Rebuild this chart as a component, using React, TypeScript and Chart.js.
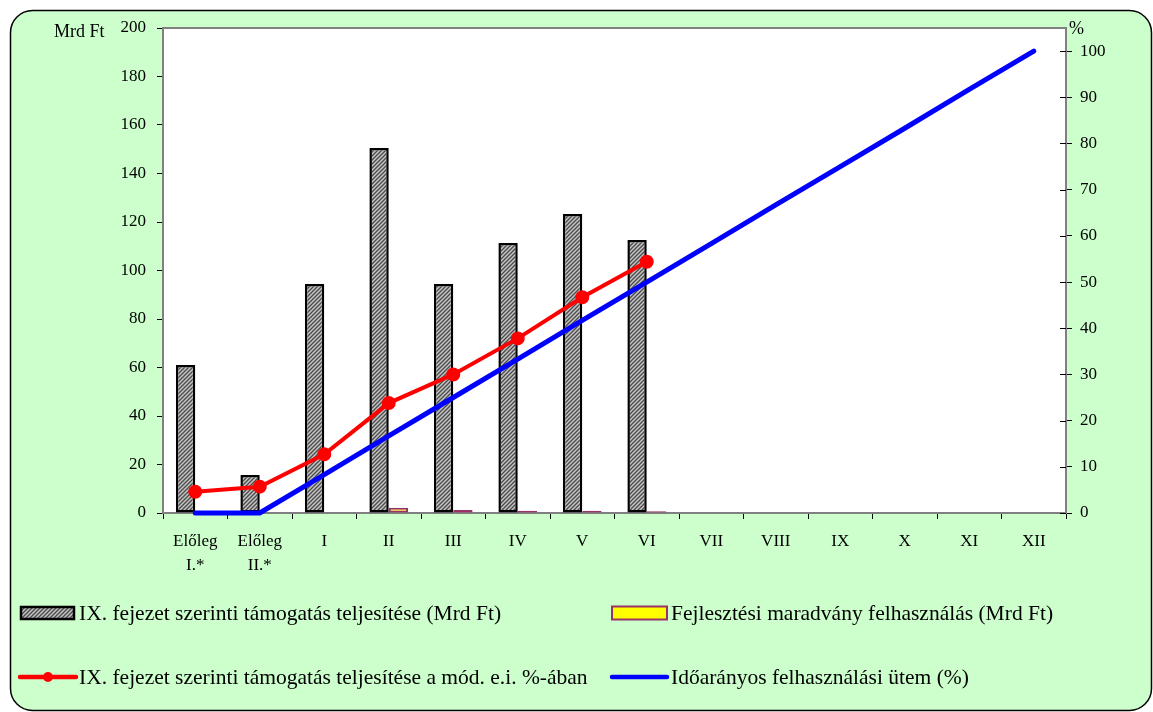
import { useEffect, useRef } from 'react';
import { Chart, registerables } from 'chart.js';

Chart.register(...registerables);

const categories: (string | string[])[] = [
  ['Előleg', 'I.*'], ['Előleg', 'II.*'], 'I', 'II', 'III', 'IV', 'V', 'VI', 'VII', 'VIII', 'IX', 'X', 'XI', 'XII',
];
const supportValues = [61.0, 15.7, 94.4, 150.5, 94.4, 111.3, 123.3, 112.6, null, null, null, null, null, null];
const residualValues = [null, null, null, 2.2, 1.2, 0.9, 0.9, 0.7, null, null, null, null, null, null];
const supportPctValues = [4.6, 5.7, 12.7, 23.8, 30.0, 37.8, 46.7, 54.4, null, null, null, null, null, null];
const timePctValues = [0, 0, 8.3, 16.7, 25, 33.3, 41.7, 50, 58.3, 66.7, 75, 83.3, 91.7, 100];

const seriesNames = [
  'IX. fejezet szerinti támogatás teljesítése (Mrd Ft)',
  'Fejlesztési maradvány felhasználás (Mrd Ft)',
  'IX. fejezet szerinti támogatás teljesítése a mód. e.i. %-ában',
  'Időarányos felhasználási ütem (%)',
];
const leftAxisTitle = 'Mrd Ft';
const rightAxisTitle = '%';

const FONT = '"Liberation Serif", "Times New Roman", serif';
const W = 1153;
const H = 712;

function makeHatch(): CanvasPattern | string {
  const c = document.createElement('canvas');
  c.width = 4;
  c.height = 4;
  const g = c.getContext('2d');
  if (!g) return '#888';
  g.fillStyle = '#c4c4c4';
  g.fillRect(0, 0, 4, 4);
  g.strokeStyle = '#4a4a4a';
  g.lineWidth = 1.3;
  g.beginPath();
  g.moveTo(0, 4); g.lineTo(4, 0);
  g.moveTo(-1, 1); g.lineTo(1, -1);
  g.moveTo(3, 5); g.lineTo(5, 3);
  g.stroke();
  const p = g.createPattern(c, 'repeat');
  return p || '#888';
}

function roundRect(ctx: CanvasRenderingContext2D, x: number, y: number, w: number, h: number, r: number) {
  ctx.beginPath();
  ctx.moveTo(x + r, y);
  ctx.lineTo(x + w - r, y);
  ctx.arcTo(x + w, y, x + w, y + r, r);
  ctx.lineTo(x + w, y + h - r);
  ctx.arcTo(x + w, y + h, x + w - r, y + h, r);
  ctx.lineTo(x + r, y + h);
  ctx.arcTo(x, y + h, x, y + h - r, r);
  ctx.lineTo(x, y + r);
  ctx.arcTo(x, y, x + r, y, r);
  ctx.closePath();
}

export default function App() {
  const ref = useRef<HTMLCanvasElement | null>(null);

  useEffect(() => {
    if (!ref.current) return;
    const hatch = makeHatch();

    const framePlugin = {
      id: 'frame',
      beforeDraw(chart: any) {
        const { ctx, chartArea } = chart;
        ctx.save();
        roundRect(ctx, 10.5, 10.5, 1141, 700, 22);
        ctx.fillStyle = '#ccffcc';
        ctx.fill();
        ctx.lineWidth = 1.5;
        ctx.strokeStyle = '#000';
        ctx.stroke();
        ctx.fillStyle = '#ffffff';
        ctx.fillRect(chartArea.left, chartArea.top, chartArea.right - chartArea.left, chartArea.bottom - chartArea.top);
        ctx.restore();
      },
      beforeDatasetsDraw(chart: any) {
        const { ctx, chartArea } = chart;
        ctx.save();
        ctx.strokeStyle = '#808080';
        ctx.lineWidth = 2;
        ctx.strokeRect(chartArea.left, chartArea.top, chartArea.right - chartArea.left, chartArea.bottom - chartArea.top);
        // inner parts of right axis ticks
        const y1 = chart.scales.y1;
        ctx.strokeStyle = '#000';
        ctx.lineWidth = 1;
        y1.ticks.forEach((t: any) => {
          const yy = Math.round(y1.getPixelForValue(t.value)) + 0.5;
          ctx.beginPath();
          ctx.moveTo(chartArea.right - 6, yy);
          ctx.lineTo(chartArea.right, yy);
          ctx.stroke();
        });
        ctx.restore();
      },
      afterDraw(chart: any) {
        const { ctx } = chart;
        ctx.save();
        // axis titles
        ctx.fillStyle = '#000';
        ctx.font = `18px ${FONT}`;
        ctx.textBaseline = 'middle';
        ctx.textAlign = 'left';
        ctx.fillText(leftAxisTitle, 54, 32);
        ctx.fillText(rightAxisTitle, 1069, 29);

        // legend
        const ds = chart.data.datasets;
        const items = [
          { x: 21, w: 53, y: 613, bh: 12, tx: 79, kind: 'box', d: ds[0] },
          { x: 612, w: 55, y: 613, bh: 13, tx: 671, kind: 'box', d: ds[1] },
          { x: 20, w: 56, y: 677, bh: 0, tx: 79, kind: 'line', d: ds[2] },
          { x: 612, w: 55, y: 677, bh: 0, tx: 671, kind: 'line', d: ds[3] },
        ];
        items.forEach((it) => {
          const d: any = it.d;
          if (it.kind === 'box') {
            ctx.fillStyle = d.backgroundColor;
            ctx.fillRect(it.x, it.y - it.bh / 2, it.w, it.bh);
            ctx.strokeStyle = d.borderColor;
            ctx.lineWidth = d.borderWidth;
            ctx.strokeRect(it.x, it.y - it.bh / 2, it.w, it.bh);
          } else {
            ctx.strokeStyle = d.borderColor;
            ctx.lineWidth = 4.5;
            ctx.lineCap = 'round';
            ctx.beginPath();
            ctx.moveTo(it.x, it.y);
            ctx.lineTo(it.x + it.w, it.y);
            ctx.stroke();
            if (d.pointRadius > 0) {
              ctx.fillStyle = d.pointBackgroundColor;
              ctx.beginPath();
              ctx.arc(it.x + it.w / 2, it.y, d.pointRadius, 0, Math.PI * 2);
              ctx.fill();
            }
          }
          ctx.fillStyle = '#000';
          ctx.font = `21.5px ${FONT}`;
          ctx.textAlign = 'left';
          ctx.textBaseline = 'middle';
          ctx.fillText(d.label, it.tx, it.y + 1);
        });
        ctx.restore();
      },
    };

    const chart = new Chart(ref.current, {
      type: 'bar',
      data: {
        labels: categories as any,
        datasets: [
          {
            type: 'bar',
            label: seriesNames[0],
            data: supportValues as any,
            backgroundColor: hatch as any,
            borderColor: '#000000',
            borderWidth: 2.5,
            borderSkipped: false,
            yAxisID: 'y',
            order: 3,
            barPercentage: 1,
            categoryPercentage: 0.6,
          },
          {
            type: 'bar',
            label: seriesNames[1],
            data: residualValues as any,
            backgroundColor: '#ffff00',
            borderColor: '#993366',
            borderWidth: 2,
            borderSkipped: false,
            yAxisID: 'y',
            order: 4,
            barPercentage: 1,
            categoryPercentage: 0.6,
          },
          {
            type: 'line',
            label: seriesNames[2],
            data: supportPctValues as any,
            borderColor: '#ff0000',
            backgroundColor: '#ff0000',
            pointBackgroundColor: '#ff0000',
            pointBorderColor: '#ff0000',
            pointRadius: 5,
            borderWidth: 4,
            yAxisID: 'y1',
            order: 1,
            clip: false,
            spanGaps: false,
          } as any,
          {
            type: 'line',
            label: seriesNames[3],
            data: timePctValues as any,
            borderColor: '#0000ff',
            backgroundColor: '#0000ff',
            pointRadius: 0,
            borderWidth: 5,
            borderCapStyle: 'round',
            yAxisID: 'y1',
            order: 2,
            clip: false,
          } as any,
        ],
      },
      options: {
        responsive: false,
        animation: false,
        layout: { padding: { top: 28, left: 0, right: 0, bottom: 0 } },
        plugins: {
          legend: { display: false },
          tooltip: { enabled: false },
        },
        font: { family: FONT },
        scales: {
          x: {
            offset: true,
            grid: {
              offset: true,
              drawOnChartArea: false,
              tickLength: 6,
              tickColor: '#000',
            },
            border: { color: '#808080', width: 2 },
            ticks: {
              color: '#000',
              font: { family: FONT, size: 17, lineHeight: 1.4 },
              padding: 11,
              maxRotation: 0,
              autoSkip: false,
            },
            afterFit(scale: any) { scale.height = 199; },
          },
          y: {
            position: 'left',
            min: 0,
            max: 200,
            ticks: {
              stepSize: 20,
              color: '#000',
              font: { family: FONT, size: 17 },
              padding: 11,
            },
            grid: { drawOnChartArea: false, tickLength: 6, tickColor: '#000' },
            border: { color: '#808080', width: 2 },
            afterFit(scale: any) { scale.width = 163; },
          },
          y1: {
            position: 'right',
            min: 0,
            max: 105,
            ticks: {
              stepSize: 10,
              color: '#000',
              font: { family: FONT, size: 17 },
              padding: 8,
            },
            grid: { drawOnChartArea: false, tickLength: 6, tickColor: '#000' },
            border: { color: '#808080', width: 2 },
            afterBuildTicks(scale: any) {
              scale.ticks = scale.ticks.filter((t: any) => t.value <= 100 && t.value % 10 === 0);
            },
            afterFit(scale: any) { scale.width = W - 1066; },
          },
        },
      } as any,
      plugins: [framePlugin],
    });

    return () => chart.destroy();
  }, []);

  return (
    <div style={{ position: 'absolute', left: 0, top: 0, width: W, height: H }}>
      <canvas ref={ref} width={W} height={H} style={{ width: W, height: H, display: 'block' }} />
    </div>
  );
}
